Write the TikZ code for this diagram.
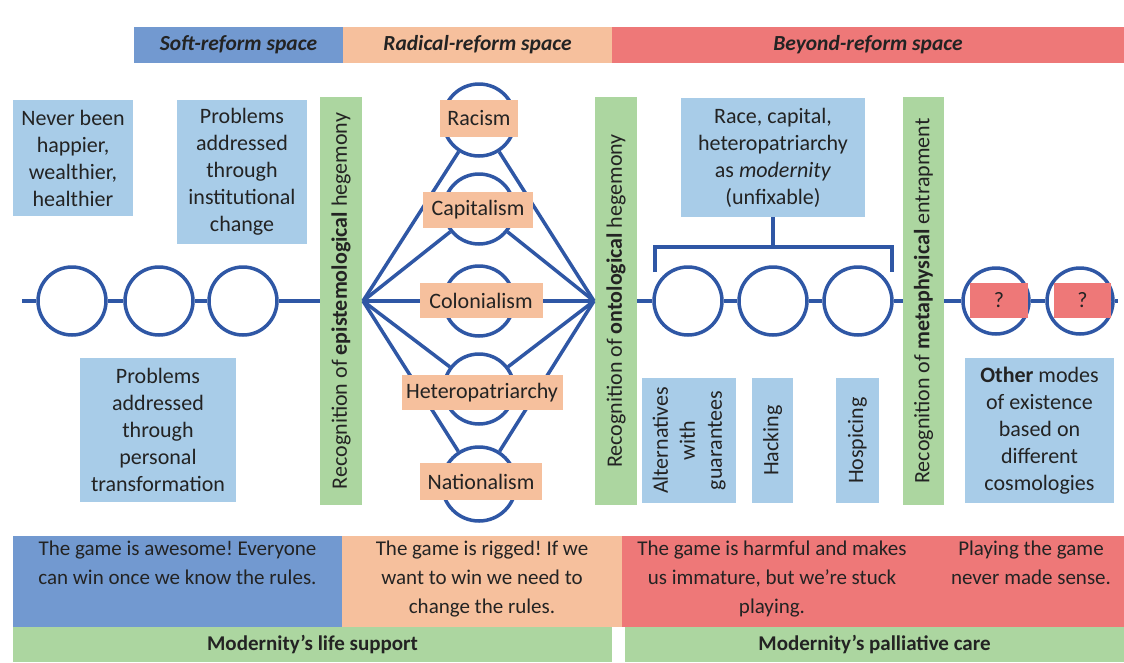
\documentclass[tikz,border=0pt]{standalone}
\usepackage{fontspec}
\setmainfont{Carlito}
\frenchspacing
\definecolor{hblue}{RGB}{114,153,208}
\definecolor{peach}{RGB}{246,192,157}
\definecolor{rred}{RGB}{238,120,120}
\definecolor{lblue}{RGB}{168,204,232}
\definecolor{ggreen}{RGB}{172,214,160}
\definecolor{lineblue}{RGB}{47,87,165}
\definecolor{txt}{RGB}{35,35,35}
\newcommand\fsz{\fontsize{22}{27}\selectfont}
\newcommand\hsz{\fontsize{21.5}{27}\selectfont}
\begin{document}
\begin{tikzpicture}[x=1pt,y=-1pt,
  every node/.style={text=txt},
  lbox/.style={fill=lblue, align=center, inner sep=0pt, font=\fsz},
  gbar/.style={fill=ggreen, rotate=90, minimum width=408pt, minimum height=42pt, inner sep=0pt, font=\fsz},
  vbox/.style={fill=lblue, rotate=90, minimum width=125pt, inner sep=0pt, align=center, font=\fsz},
  obox/.style={fill=peach, inner sep=0pt, font=\fsz},
  qbox/.style={fill=rred, inner sep=0pt, font=\fsz, minimum height=35pt},
  ring/.style={circle, draw=lineblue, line width=3.5pt, inner sep=0pt, minimum size=#1},
  ring/.default=68pt,
  conn/.style={draw=lineblue, line width=3.5pt},
  hdr/.style={inner sep=0pt, font=\hsz\bfseries\itshape, minimum height=36pt},
  band/.style={inner sep=0pt, minimum height=91pt},
  btxt/.style={inner sep=0pt, align=center, font=\fontsize{21}{29}\selectfont, anchor=north},
  gband/.style={fill=ggreen, inner sep=0pt, minimum height=35pt, font=\fontsize{21}{27}\selectfont\bfseries}
]
\useasboundingbox (0,0) rectangle (1124,662);
\fill[white] (0,0) rectangle (1124,662);

% header
\node[hdr, fill=hblue, minimum width=209pt] (soft) at (238.5,45) {Soft-reform space};
\node[hdr, fill=peach, minimum width=269pt] (radical) at (477.5,45) {Radical-reform space};
\node[hdr, fill=rred, minimum width=512pt] (beyond) at (868,45) {Beyond-reform space};

% left boxes
\node[lbox, minimum width=120pt, minimum height=116pt] (never) at (73,158) {Never been\\happier,\\wealthier,\\healthier};
\node[lbox, minimum width=130pt, minimum height=144pt] (inst) at (242,172) {Problems\\addressed\\through\\institutional\\change};
\node[lbox, minimum width=156pt, minimum height=144pt] (pers) at (158,430) {Problems\\addressed\\through\\personal\\transformation};

% green bars
\node[gbar] (epi) at (341,301) {Recognition of \textbf{epistemological} hegemony};
\node[gbar] (onto) at (616,301) {Recognition of \textbf{ontological} hegemony};
\node[gbar, minimum height=41pt] (meta) at (923.5,301) {Recognition of \textbf{metaphysical} entrapment};

% left chain
\coordinate (lstart) at (22,301);
\node[ring] (c1) at (72,301) {};
\node[ring] (c2) at (159,301) {};
\node[ring] (c3) at (243,301) {};
\draw[conn] (lstart) -- (c1);
\draw[conn] (c1) -- (c2);
\draw[conn] (c2) -- (c3);
\draw[conn] (c3) -- (epi);

% diamond
\coordinate (L) at (363,301);
\coordinate (R) at (594,301);
\node[ring=72pt] (d1) at (479,120) {};
\node[ring=70pt] (d2) at (479,209) {};
\node[ring=70pt] (d3) at (479,301) {};
\node[ring=70pt] (d4) at (479,389) {};
\node[ring=74pt] (d5) at (479,484) {};
\foreach \d in {d1,d2,d3,d4,d5}{
  \draw[conn] (L) -- (\d);
  \draw[conn] (\d) -- (R);
}
\node[obox, minimum width=78pt, minimum height=37pt] (racism) at (479,118.5) {Racism};
\node[obox, minimum width=110pt, minimum height=36pt] (capital) at (478,210) {Capitalism};
\node[obox, minimum width=123pt, minimum height=35pt] (colon) at (481,300.5) {Colonialism};
\node[obox, minimum width=161pt, minimum height=35pt] (hetero) at (482,392.5) {Heteropatriarchy};
\node[obox, minimum width=122pt, minimum height=37pt] (nation) at (481,481.5) {Nationalism};

% right section
\node[lbox, minimum width=184pt, minimum height=119pt] (race) at (773,157.5) {Race, capital,\\heteropatriarchy\\as \textit{modernity}\\(unfixable)};
\node[ring] (r1) at (688,301) {};
\node[ring] (r2) at (773,301) {};
\node[ring] (r3) at (858,301) {};
\draw[conn] (onto) -- (r1);
\draw[conn] (r1) -- (r2);
\draw[conn] (r2) -- (r3);
\draw[conn] (r3) -- (meta);
\coordinate (bl) at (655,272);
\coordinate (br) at (892,272);
\coordinate (bt) at (773,247);
\draw[conn] (bl) |- (bt) -| (br);
\draw[conn] (bt) -- (race.south);

\node[vbox, minimum height=94pt] (alt) at (689,440.5) {Alternatives\\with\\guarantees};
\node[vbox, minimum height=41pt] (hack) at (772.5,440.5) {Hacking};
\node[vbox, minimum height=43pt] (hosp) at (857.5,440.5) {Hospicing};

% beyond
\node[ring=66pt] (q1) at (996,301) {};
\node[ring=66pt] (q2) at (1080,301) {};
\coordinate (rend) at (1118,301);
\draw[conn] (meta) -- (q1);
\draw[conn] (q1) -- (q2);
\draw[conn] (q2) -- (rend);
\node[qbox, minimum width=58pt] (qa) at (999,300.5) {?};
\node[qbox, minimum width=57pt] (qb) at (1082.5,300.5) {?};
\node[lbox, minimum width=149pt, minimum height=145pt] (other) at (1039.5,430.5) {\textbf{Other} modes\\of existence\\based on\\different\\cosmologies};

% bottom bands
\node[band, fill=hblue, minimum width=329pt] (g1) at (177.5,581.5) {};
\node[band, fill=peach, minimum width=280pt] (g2) at (482,581.5) {};
\node[band, fill=rred, minimum width=502pt] (g3) at (873,581.5) {};
\node[btxt] (t1) at (177.5,541) {The game is awesome! Everyone\\can win once we know the rules.};
\node[btxt] (t2) at (482,541) {The game is rigged! If we\\want to win we need to\\change the rules.};
\node[btxt] (t3) at (772,541) {The game is harmful and makes\\us immature, but we’re stuck\\playing.};
\node[btxt] (t4) at (1031,541) {Playing the game\\never made sense.};
\node[gband, minimum width=599pt] (life) at (312.5,644.5) {Modernity’s life support};
\node[gband, minimum width=499pt] (pall) at (874.5,644.5) {Modernity’s palliative care};
\end{tikzpicture}
\end{document}
